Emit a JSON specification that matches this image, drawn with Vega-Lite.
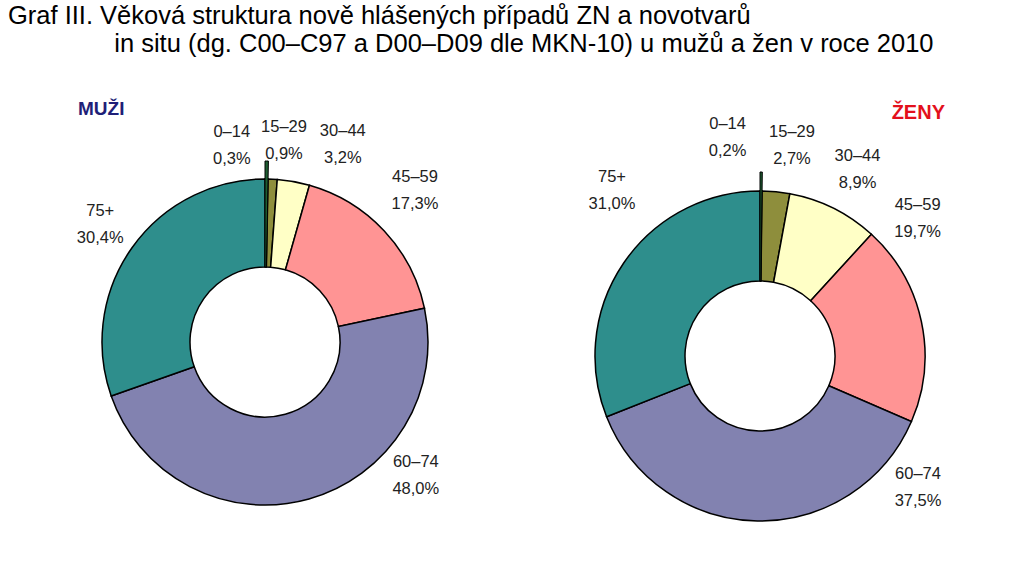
{
  "$schema": "https://vega.github.io/schema/vega-lite/v6.json",
  "description": "Věková struktura nově hlášených případů ZN a novotvarů in situ, muži a ženy, 2010.",
  "padding": {"left": 8, "top": 4, "right": 79, "bottom": 0},
  "title": {
    "text": [
      "Graf III. Věková struktura nově hlášených případů ZN a novotvarů",
      "\u200b\u00a0\u00a0\u00a0\u00a0\u00a0\u00a0\u00a0\u00a0\u00a0\u00a0\u00a0\u00a0\u00a0\u00a0\u00a0in situ (dg. C00–C97 a D00–D09 dle MKN-10) u mužů a žen v roce 2010"
    ],
    "anchor": "start",
    "font": "Liberation Sans",
    "fontSize": 25.5,
    "fontWeight": "normal",
    "lineHeight": 28,
    "color": "#000000",
    "offset": 42
  },
  "datasets": {
    "muzi": [
      {"age": "0–14", "ord": 1, "pct": 0.3},
      {"age": "15–29", "ord": 2, "pct": 0.9},
      {"age": "30–44", "ord": 3, "pct": 3.2},
      {"age": "45–59", "ord": 4, "pct": 17.3},
      {"age": "60–74", "ord": 5, "pct": 48.0},
      {"age": "75+", "ord": 6, "pct": 30.4}
    ],
    "zeny": [
      {"age": "0–14", "ord": 1, "pct": 0.2},
      {"age": "15–29", "ord": 2, "pct": 2.7},
      {"age": "30–44", "ord": 3, "pct": 8.9},
      {"age": "45–59", "ord": 4, "pct": 19.7},
      {"age": "60–74", "ord": 5, "pct": 37.5},
      {"age": "75+", "ord": 6, "pct": 31.0}
    ]
  },
  "bounds": "flush",
  "spacing": 53,
  "hconcat": [
    {
      "width": 514,
      "height": 382,
      "title": {"text": "MUŽI", "anchor": "start", "dx": 70, "color": "#1f1f78", "fontSize": 19, "fontWeight": "bold", "offset": 0},
      "data": {"name": "muzi"},
      "transform": [
        {"calculate": "[datum.age, replace(format(datum.pct, '.1f'), '.', ',') + '%']", "as": "label"}
      ],
      "encoding": {
        "theta": {"field": "pct", "type": "quantitative", "stack": true},
        "order": {"field": "ord", "type": "quantitative"}
      },
      "layer": [
        {
          "mark": {"type": "arc", "outerRadius": 163, "innerRadius": 75, "stroke": "#000000", "strokeWidth": 1.5},
          "encoding": {
            "color": {
              "field": "age", "type": "nominal", "legend": null,
              "scale": {
                "domain": ["0–14", "15–29", "30–44", "45–59", "60–74", "75+"],
                "range": ["#1e5e32", "#8e8e3c", "#ffffc6", "#ff9494", "#8282b0", "#2e8e8c"]
              }
            }
          }
        },
        {
          "mark": {"type": "arc", "outerRadius": 181, "innerRadius": 75, "stroke": "#000000", "strokeWidth": 1},
          "encoding": {
            "color": {"field": "age", "type": "nominal", "legend": null},
            "opacity": {"condition": {"test": "datum.age === '0–14'", "value": 1}, "value": 0}
          }
        },
        {
          "mark": {
            "type": "text",
            "font": "Liberation Sans",
            "fontSize": 16.5,
            "lineHeight": 27,
            "color": "#222222",
            "baseline": "middle",
            "align": "center",
            "dy": -14,
            "radius": {"expr": "datum.age === '0–14' ? 199 : datum.age === '15–29' ? 202 : datum.age === '30–44' ? 212 : datum.age === '45–59' ? 213 : 202"},
            "thetaOffset": {"expr": "datum.age === '0–14' ? -0.177 : datum.age === '15–29' ? 0.047 : datum.age === '30–44' ? 0.2 : datum.age === '45–59' ? -0.038 : datum.age === '60–74' ? -0.57 : 0"}
          },
          "encoding": {
            "text": {"field": "label"}
          }
        }
      ]
    },
    {
      "width": 370,
      "height": 410,
      "title": {"text": "ŽENY", "anchor": "end", "color": "#e3101c", "fontSize": 20, "fontWeight": "bold", "offset": -7},
      "data": {"name": "zeny"},
      "transform": [
        {"calculate": "[datum.age, replace(format(datum.pct, '.1f'), '.', ',') + '%']", "as": "label"}
      ],
      "encoding": {
        "theta": {"field": "pct", "type": "quantitative", "stack": true},
        "order": {"field": "ord", "type": "quantitative"}
      },
      "layer": [
        {
          "mark": {"type": "arc", "outerRadius": 165, "innerRadius": 75, "stroke": "#000000", "strokeWidth": 1.5},
          "encoding": {
            "color": {
              "field": "age", "type": "nominal", "legend": null,
              "scale": {
                "domain": ["0–14", "15–29", "30–44", "45–59", "60–74", "75+"],
                "range": ["#1e5e32", "#8e8e3c", "#ffffc6", "#ff9494", "#8282b0", "#2e8e8c"]
              }
            }
          }
        },
        {
          "mark": {"type": "arc", "outerRadius": 184, "innerRadius": 75, "stroke": "#000000", "strokeWidth": 1},
          "encoding": {
            "color": {"field": "age", "type": "nominal", "legend": null},
            "opacity": {"condition": {"test": "datum.age === '0–14'", "value": 1}, "value": 0}
          }
        },
        {
          "mark": {
            "type": "text",
            "font": "Liberation Sans",
            "fontSize": 16.5,
            "lineHeight": 27,
            "color": "#222222",
            "baseline": "middle",
            "align": "center",
            "dy": -14,
            "radius": {"expr": "datum.age === '0–14' ? 220 : datum.age === '15–29' ? 212 : datum.age === '30–44' ? 210 : datum.age === '45–59' ? 209 : datum.age === '60–74' ? 206 : 222"},
            "thetaOffset": {"expr": "datum.age === '0–14' ? -0.154 : datum.age === '15–29' ? 0.054 : datum.age === '30–44' ? 0.021 : datum.age === '45–59' ? -0.506 : datum.age === '60–74' ? -0.89 : 0.244"}
          },
          "encoding": {
            "text": {"field": "label"}
          }
        }
      ]
    }
  ],
  "config": {
    "view": {"stroke": null},
    "font": "Liberation Sans"
  }
}
